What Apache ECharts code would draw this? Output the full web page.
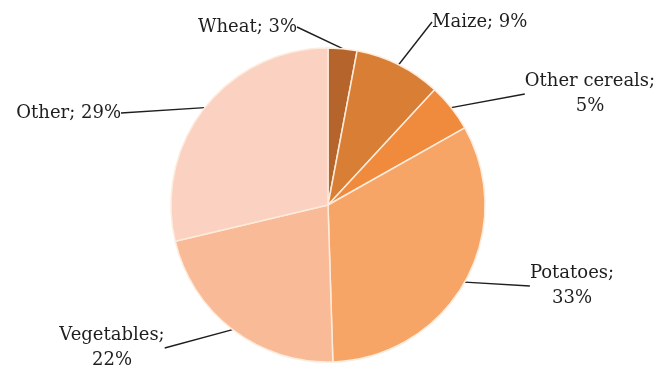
<!DOCTYPE html>
<html>
<head>
<meta charset="utf-8">
<script src="https://cdn.jsdelivr.net/npm/echarts@6/dist/echarts.min.js"></script>
<style>
  html, body { margin: 0; padding: 0; background: #fff; }
  #chart { width: 661px; height: 371px; }
</style>
</head>
<body>
<div id="chart"></div>
<script>
// data
var categories = ['Wheat', 'Maize', 'Other cereals', 'Potatoes', 'Vegetables', 'Other'];
var shares = [3, 9, 5, 33, 22, 29];
var sliceColors = ['#b5652b', '#d97e35', '#f08b3e', '#f7a566', '#f9bb97', '#fbd1c1'];

// where each label sits, and which labels wrap
var labelPos = [
    [297, 27, 'right'],
    [432, 22, 'left'],
    [590, 94, 'center'],
    [572, 286, 'center'],
    [112, 348, 'center'],
    [121, 113, 'right']
];
var wrapped = [false, false, true, true, true, false];

var chart = echarts.init(document.getElementById('chart'));

var pieData = categories.map(function (name, i) {
    return {
        name: name,
        value: shares[i],
        itemStyle: { color: sliceColors[i] },
        label: { formatter: wrapped[i] ? '{b};\n{c}%' : '{b}; {c}%' }
    };
});

chart.setOption({
    animation: false,
    series: [{
        type: 'pie',
        center: [328, 205],
        radius: 157,
        startAngle: 90,
        clockwise: true,
        itemStyle: {
            borderColor: '#fdebdc',
            borderWidth: 1.5
        },
        label: {
            show: true,
            position: 'outside',
            fontFamily: 'DejaVu Serif',
            fontSize: 18,
            color: '#1e1e1e',
            lineHeight: 25,
            align: 'center'
        },
        labelLine: {
            show: true,
            length: 0,
            length2: 0,
            lineStyle: { color: '#1e1e1e', width: 1.4 }
        },
        labelLayout: function (params) {
            var p = labelPos[params.dataIndex];
            return {
                x: p[0],
                y: p[1],
                align: p[2],
                verticalAlign: 'middle'
            };
        },
        data: pieData
    }]
});
</script>
</body>
</html>
